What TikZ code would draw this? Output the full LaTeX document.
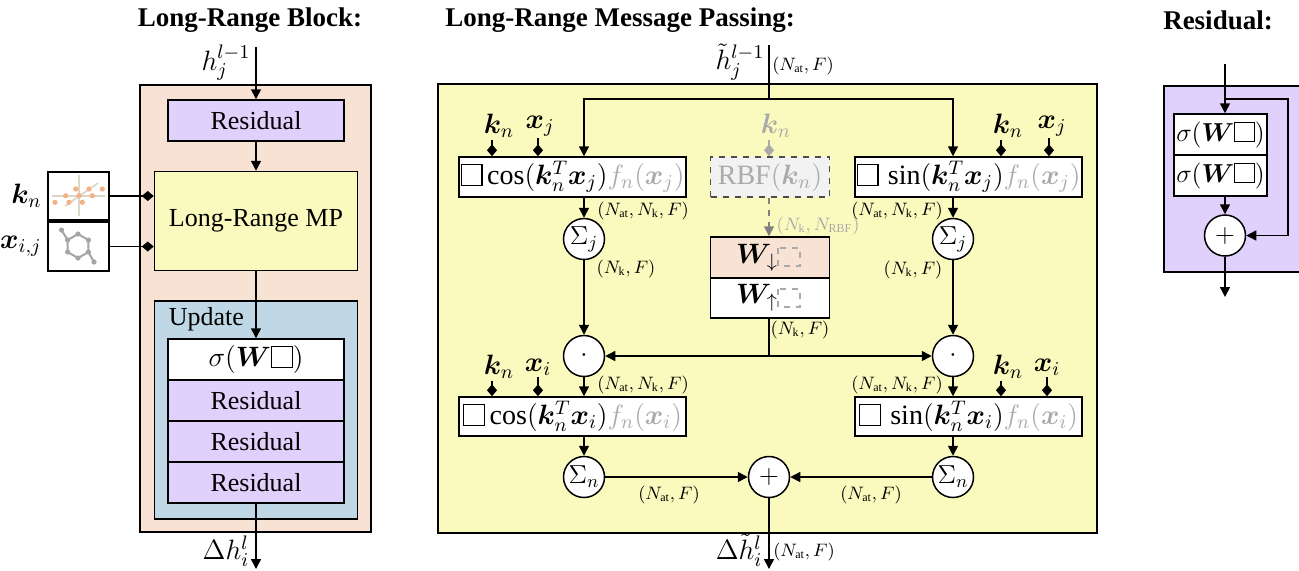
\documentclass[tikz,border=0pt]{standalone}
\usepackage{fix-cm}
\usepackage{bm}
\usepackage{fontspec}
\setmainfont{Liberation Serif}
\usetikzlibrary{arrows.meta,positioning}

\definecolor{peach}{RGB}{248,226,212}
\definecolor{lav}{RGB}{224,208,252}
\definecolor{yel}{RGB}{250,250,190}
\definecolor{upd}{RGB}{192,216,230}
\definecolor{lgray}{RGB}{170,170,170}
\definecolor{rbf}{RGB}{242,242,242}
\definecolor{dotor}{RGB}{244,177,131}
\definecolor{axgray}{RGB}{218,214,200}
\definecolor{molgray}{RGB}{165,165,165}

\newcommand{\sqr}{\mathord{\fboxsep=0pt\fboxrule=0.6pt\fbox{\rule{0pt}{0.7em}\hspace{0.7em}}}}
\newcommand{\Nat}{N_{\mathrm{at}}}
\newcommand{\Nk}{N_{\mathrm{k}}}

\begin{document}
\begin{tikzpicture}[x=0.5pt,y=-0.5pt,line width=0.75pt,font=\fontsize{13}{15.6}\selectfont,
    >={Triangle[length=5pt,width=5pt]},
    ttl/.style={font=\fontsize{13.5}{16}\selectfont\bfseries},
    blk/.style={draw,inner sep=0pt,minimum height=20.5pt},
    fn/.style={blk,fill=white,minimum width=113.5pt,minimum height=20pt,font=\fontsize{14}{16}\selectfont},
    opn/.style={draw,circle,fill=white,inner sep=0pt,minimum size=20.5pt},
    dim/.style={inner sep=0pt,font=\fontsize{9}{11}\selectfont},
    vec/.style={inner sep=0.5pt,font=\fontsize{14}{16}\selectfont},
    tack/.style={-{Diamond[length=6pt,width=5pt]}}]
    \useasboundingbox (0,0) rectangle (1299,570);

    \node[ttl] (tL) at (250,20) {Long-Range Block:};
    \node[draw,fill=peach,minimum width=115.5pt,minimum height=223.5pt] (bgL) at (255.5,308.5) {};
    \node[blk,fill=lav,minimum width=88pt] (res0) at (256,120.5) {Residual};
    \node[blk,fill=yel,minimum width=101.5pt,minimum height=49.5pt] (mp) at (256,221) {Long-Range MP};
    \node[draw,fill=upd,minimum width=101.5pt,minimum height=109pt] (upd) at (256,410) {};
    \node[anchor=base west,inner sep=0pt] (updl) at (168,325) {Update};
    \node[blk,fill=white,minimum width=88pt,font=\fontsize{14}{16}\selectfont] (sg) at (256,359.5) {$\sigma(\bm{W}\sqr)$};
    \foreach \i/\y in {1/400.5,2/441.5,3/482.5}
        \node[blk,fill=lav,minimum width=88pt] (res\i) at (256,\y) {Residual};

    \node[draw,fill=white,minimum width=30.5pt,minimum height=24pt] (icK) at (78.5,196) {};
    \node[draw,fill=white,minimum width=30.5pt,minimum height=24.5pt] (icX) at (78.5,246.5) {};
    \draw[axgray,line width=0.8pt] (79,175) -- (79,216) (52,196) -- (105,196) (65,206) -- (98,183);
    \foreach \p in {(75.7,189),(89,189),(102.3,189),(65.7,195.7),(79,195.7),(92.3,195.7),(55,202.3),(69,202.3),(82.3,202.3)}
        \fill[dotor] \p circle (1.3pt);
    \draw[molgray,line width=1pt] (61.5,230) -- (67.6,240) -- (78,234) -- (88.4,240) -- (88.4,252) -- (94,262)
        (88.4,252) -- (78,258) -- (67.6,252) -- (67.6,240);
    \foreach \p in {(61.5,230),(67.6,240),(78,234),(88.4,240),(88.4,252),(94,262),(78,258),(67.6,252)}
        \fill[molgray] \p circle (1.3pt);
    \node[vec,left=2pt of icK] (kL) {$\bm{k}_n$};
    \node[vec,left=2pt of icX] (xL) {$\bm{x}_{i,j}$};
    \draw[tack] (icK.east) -- (icK.east -| mp.west);
    \draw[tack] (icX.east) -- (icX.east -| mp.west);

    \coordinate (iL) at (256,47);
    \coordinate (oL) at (256,569);
    \node[vec] (hL) at (226,63) {$h_j^{l-1}$};
    \node[vec] (dhL) at (226,551) {$\Delta h_i^l$};
    \draw[->] (iL) -- (res0);
    \draw[->] (res0) -- (mp);
    \draw[->] (mp) -- (sg);
    \draw[->] (res3) -- (oL);

    \node[ttl,anchor=west] (tM) at (438,20) {Long-Range Message Passing:};
    \node[draw,fill=yel,minimum width=329.5pt,minimum height=224.5pt] (bgM) at (767.5,308.5) {};
    \node[fn] (cT) at (572.5,177) {$\sqr\cos\bigl(\bm{k}_n^T\bm{x}_j\bigr)\textcolor{lgray}{f_n\bigl(\bm{x}_j\bigr)}$};
    \node[fn] (sT) at (968.5,177) {$\sqr\,\sin\bigl(\bm{k}_n^T\bm{x}_j\bigr)\textcolor{lgray}{f_n\bigl(\bm{x}_j\bigr)}$};
    \node[fn,minimum height=19.5pt] (cB) at (572.5,416.5) {$\sqr\cos(\bm{k}_n^T\bm{x}_i)\textcolor{lgray}{f_n(\bm{x}_i)}$};
    \node[fn,minimum height=19.5pt] (sB) at (968.5,416.5) {$\sqr\,\sin(\bm{k}_n^T\bm{x}_i)\textcolor{lgray}{f_n(\bm{x}_i)}$};
    \node[fn,dashed,draw=black!70,fill=rbf,text=lgray,minimum width=59.5pt] (rbf) at (770,177) {RBF$(\bm{k}_n)$};
    \node[blk,fill=peach,minimum width=59.5pt,font=\fontsize{14}{16}\selectfont] (Wd) at (770,257.5) {$\bm{W}_{\downarrow}\hspace{13pt}$};
    \node[blk,fill=white,minimum width=59.5pt,minimum height=20pt,font=\fontsize{14}{16}\selectfont] (Wu) at (770,298) {$\bm{W}_{\uparrow}\hspace{13pt}$};
    \draw[dashed,lgray,line width=0.6pt] ([shift={(8,-9.5)}]Wd.center) rectangle ([shift={(30,8.5)}]Wd.center);
    \draw[dashed,lgray,line width=0.6pt] ([shift={(8,-9)}]Wu.center) rectangle ([shift={(30,9)}]Wu.center);

    \node[opn] (sjL) at (584,239) {$\Sigma_j$};
    \node[opn] (sjR) at (953,239) {$\Sigma_j$};
    \node[opn] (dL) at (584,356) {$\cdot$};
    \node[opn] (dR) at (953,356) {$\cdot$};
    \node[opn] (snL) at (584,477) {$\Sigma_n$};
    \node[opn] (snR) at (953,477) {$\Sigma_n$};
    \node[opn] (pl) at (769,477) {$+$};

    \coordinate (iM) at (769,45);
    \coordinate (sp) at (769,99);
    \coordinate (jn) at (769,356);
    \coordinate (oM) at (769,569);
    \draw (iM) -- (sp);
    \draw[->] (sp) -| (cT.north -| sjL);
    \draw[->] (sp) -| (sT.north -| sjR);
    \draw[->] (cT.south -| sjL) -- (sjL);
    \draw[->] (sT.south -| sjR) -- (sjR);
    \draw[->] (sjL) -- (dL);
    \draw[->] (sjR) -- (dR);
    \draw[->] (dL) -- (cB.north -| dL);
    \draw[->] (dR) -- (sB.north -| dR);
    \draw[->] (cB.south -| snL) -- (snL);
    \draw[->] (sB.south -| snR) -- (snR);
    \draw[->] (snL) -- (pl);
    \draw[->] (snR) -- (pl);
    \draw[->] (pl) -- (oM);
    \draw[->,dashed,black!50] (rbf.south -| jn) -- (Wd.north -| jn);
    \draw (Wu.south -| jn) -- (jn);
    \draw[->] (jn) -- (dL);
    \draw[->] (jn) -- (dR);

    \node[vec] (k1) at (499,126) {$\bm{k}_n$};
    \node[vec] (x1) at (540,126) {$\bm{x}_j$};
    \node[vec,text=lgray] (k0) at (776,126) {$\bm{k}_n$};
    \node[vec] (k2) at (1008,126) {$\bm{k}_n$};
    \node[vec] (x2) at (1052,126) {$\bm{x}_j$};
    \node[vec] (k3) at (499,367) {$\bm{k}_n$};
    \node[vec] (x3) at (538,367) {$\bm{x}_i$};
    \node[vec] (k4) at (1008,367) {$\bm{k}_n$};
    \node[vec] (x4) at (1047,367) {$\bm{x}_i$};
    \draw[tack] ([xshift=-3.5pt]k1.south) -- ([xshift=-3.5pt]k1.south |- cT.north);
    \draw[tack] ([xshift=-1pt]x1.south) -- ([xshift=-1pt]x1.south |- cT.north);
    \draw[tack,lgray] ([xshift=-3.5pt]k0.south) -- ([xshift=-3.5pt]k0.south |- rbf.north);
    \draw[tack] ([xshift=-3.5pt]k2.south) -- ([xshift=-3.5pt]k2.south |- sT.north);
    \draw[tack] ([xshift=-1.5pt]x2.south) -- ([xshift=-1.5pt]x2.south |- sT.north);
    \draw[tack] ([xshift=-3.5pt]k3.south) -- ([xshift=-3.5pt]k3.south |- cB.north);
    \draw[tack] (x3.south) -- (x3.south |- cB.north);
    \draw[tack] ([xshift=-3.5pt]k4.south) -- ([xshift=-3.5pt]k4.south |- sB.north);
    \draw[tack] (x4.south) -- (x4.south |- sB.north);

    \node[vec] (hM) at (740,62) {$\tilde{h}_j^{l-1}$};
    \node[vec] (dhM) at (739,550) {$\Delta\tilde{h}_i^l$};
    \node[dim] (n1) at (803,66) {$(\Nat,F)$};
    \node[dim] (n2) at (643,211) {$(\Nat,\Nk,F)$};
    \node[dim] (n3) at (626,269) {$(\Nk,F)$};
    \node[dim,text=lgray] (n4) at (818,226) {$(\Nk,N_{\mathrm{RBF}})$};
    \node[dim] (n5) at (897,211) {$(\Nat,\Nk,F)$};
    \node[dim] (n6) at (913,270) {$(\Nk,F)$};
    \node[dim] (n7) at (800,330) {$(\Nk,F)$};
    \node[dim] (n8) at (643,385) {$(\Nat,\Nk,F)$};
    \node[dim] (n9) at (897,385) {$(\Nat,\Nk,F)$};
    \node[dim] (n10) at (669,495) {$(\Nat,F)$};
    \node[dim] (n11) at (871,495) {$(\Nat,F)$};
    \node[dim] (n12) at (804,552) {$(\Nat,F)$};

    \node[ttl] (tR) at (1218,20) {Residual:};
    \node[draw,fill=lav,anchor=north west,minimum width=76pt,minimum height=93pt] (bgR) at (1163,85) {};
    \node[blk,fill=white,minimum width=46.5pt] (rs1) at (1220.5,134.5) {$\sigma(\bm{W}\sqr)$};
    \node[blk,fill=white,minimum width=46.5pt] (rs2) at (1220.5,175.5) {$\sigma(\bm{W}\sqr)$};
    \node[opn] (plR) at (1225,235.5) {$+$};
    \coordinate (iR) at (1225,64);
    \coordinate (bR) at (1225,99);
    \coordinate (cR) at (1288,99);
    \coordinate (oR) at (1225,297);
    \draw[->] (iR) -- (rs1.north -| iR);
    \draw[->] (bR) -- (cR) |- (plR);
    \draw[->] (rs2.south -| plR) -- (plR);
    \draw[->] (plR) -- (oR);
\end{tikzpicture}
\end{document}
